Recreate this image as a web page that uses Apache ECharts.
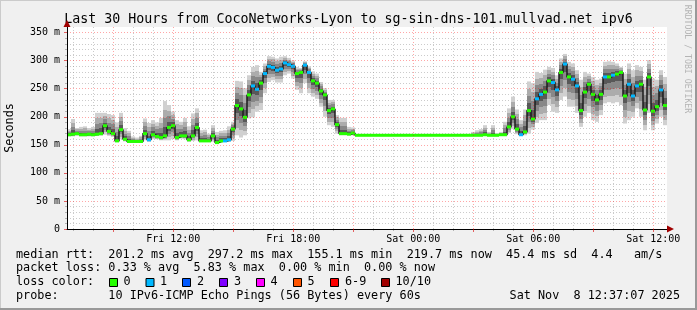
<!DOCTYPE html>
<html>
<head>
<meta charset="utf-8">
<script src="https://cdn.jsdelivr.net/npm/echarts@6/dist/echarts.min.js"></script>
<style>
  html, body { margin: 0; padding: 0; background: #f0f0f0; }
  #chart { width: 697px; height: 310px; }
</style>
</head>
<body>
<div id="chart"></div>
<script>
// time axis in hours since Fri 00:00, one rrd row = 12 min
const startHour = 6.685
const stepHours = 0.2

// median rtt per row (ms)
const median = [
  168, 169, 170, 168, 168, 169, 168, 169, 170, 184,
  174, 170, 157, 177, 160, 156, 156, 156, 156, 170,
  159, 168, 165, 163, 166, 181, 184, 163, 166, 166,
  159, 166, 181, 157, 157, 157, 166, 154, 157, 157,
  159, 178, 220, 214, 199, 239, 255, 249, 260, 277,
  290, 288, 283, 285, 296, 293, 290, 277, 279, 292,
  279, 264, 260, 246, 239, 211, 214, 186, 170, 170,
  169, 171, 167, 167, 167, 167, 167, 167, 167, 167,
  167, 167, 167, 167, 167, 167, 167, 167, 167, 167,
  167, 167, 167, 167, 167, 167, 167, 167, 167, 167,
  167, 167, 167, 167, 168, 167, 167, 167, 168, 168,
  182, 200, 178, 168, 173, 211, 196, 232, 240, 244,
  264, 261, 248, 279, 294, 271, 267, 255, 211, 244,
  258, 240, 230, 240, 271, 271, 274, 276, 279, 237,
  258, 237, 255, 258, 212, 271, 210, 218, 248, 220
]
// fastest ping per row (ms)
const low = [
  165, 165, 166, 165, 165, 165, 165, 166, 166, 168,
  166, 164, 155, 160, 156, 154, 154, 154, 154, 158,
  155, 160, 160, 158, 158, 158, 160, 158, 161, 160,
  155, 157, 158, 155, 155, 155, 156, 153, 154, 155,
  155, 157, 167, 163, 167, 197, 199, 209, 212, 242,
  262, 265, 261, 261, 274, 277, 268, 248, 242, 260,
  242, 236, 232, 218, 200, 185, 182, 170, 167, 167,
  167, 167, 167, 167, 167, 167, 167, 167, 167, 167,
  167, 167, 167, 167, 167, 167, 167, 167, 167, 167,
  167, 167, 167, 167, 167, 167, 167, 167, 167, 167,
  167, 166, 166, 166, 166, 166, 166, 166, 166, 167,
  171, 178, 169, 166, 167, 170, 177, 189, 194, 194,
  221, 209, 207, 230, 236, 218, 218, 207, 182, 200,
  207, 194, 191, 203, 224, 226, 224, 226, 221, 188,
  194, 200, 215, 200, 176, 207, 176, 188, 200, 185
]
// slowest ping per row (ms)
const high = [
  178, 196, 180, 182, 183, 180, 182, 207, 207, 207,
  205, 203, 190, 207, 180, 175, 165, 163, 166, 197,
  189, 194, 190, 198, 228, 221, 209, 194, 191, 198,
  183, 206, 215, 176, 177, 170, 185, 173, 175, 176,
  183, 191, 264, 263, 251, 274, 289, 292, 280, 295,
  308, 307, 304, 307, 308, 305, 300, 289, 287, 299,
  290, 281, 277, 262, 251, 230, 230, 203, 198, 198,
  182, 181, 167, 167, 167, 167, 167, 167, 167, 167,
  167, 167, 167, 167, 167, 167, 167, 167, 167, 167,
  167, 167, 167, 167, 167, 167, 167, 167, 167, 167,
  167, 173, 176, 178, 185, 173, 185, 171, 173, 191,
  215, 236, 213, 194, 213, 263, 260, 280, 278, 284,
  289, 287, 274, 304, 312, 298, 295, 283, 266, 280,
  277, 271, 266, 268, 298, 299, 298, 295, 289, 277,
  295, 283, 292, 289, 266, 301, 268, 266, 283, 271
]
// lost pings per row
const loss = [
  0, 0, 0, 0, 0, 0, 0, 0, 0, 0,
  0, 0, 0, 0, 0, 0, 0, 0, 0, 0,
  1, 0, 0, 0, 0, 0, 0, 0, 0, 0,
  0, 0, 0, 0, 0, 0, 0, 0, 0, 1,
  1, 0, 0, 0, 0, 0, 1, 1, 0, 1,
  1, 1, 1, 1, 1, 1, 1, 0, 0, 1,
  1, 0, 0, 0, 0, 0, 0, 0, 0, 0,
  0, 0, 0, 0, 0, 0, 0, 0, 0, 0,
  0, 0, 0, 0, 0, 0, 0, 0, 0, 0,
  0, 0, 0, 0, 0, 0, 0, 0, 0, 0,
  0, 0, 0, 0, 0, 0, 0, 0, 0, 0,
  0, 0, 0, 1, 0, 0, 0, 1, 1, 0,
  0, 1, 1, 0, 1, 0, 1, 1, 0, 0,
  0, 0, 0, 0, 1, 0, 1, 0, 0, 0,
  1, 1, 1, 0, 0, 0, 0, 0, 1, 0
]

const xLabelHours = [12, 18, 24, 30, 36]
const xLabels = ['Fri 12:00', 'Fri 18:00', 'Sat 00:00', 'Sat 06:00', 'Sat 12:00']
const xMajorHours = [9, 12, 15, 18, 21, 24, 27, 30, 33, 36]
const yMajor = [0, 50, 100, 150, 200, 250, 300, 350]

const lossNames = ['0', '1', '2', '3', '4', '5', '6-9', '10/10']
const lossColors = ['#26ff00', '#00b8ff', '#0059ff', '#7e00ff', '#ff00ff', '#ff5500', '#ff0000', '#a10000']

const statsLine = 'median rtt:  201.2 ms avg  297.2 ms max  155.1 ms min  219.7 ms now  45.4 ms sd  4.4   am/s'
const lossLine = 'packet loss: 0.33 % avg  5.83 % max  0.00 % min  0.00 % now'
const probeLine = 'probe:       10 IPv6-ICMP Echo Pings (56 Bytes) every 60s'
const stamp = 'Sat Nov  8 12:37:07 2025'

const endHour = startHour + median.length * stepHours
const mono = '"DejaVu Sans Mono", monospace'

let xMinor = []
for (let h = 7; h <= 36; h++) if (h % 3) xMinor.push(h)
let yMinor = []
for (let v = 10; v <= 350; v += 10) if (v % 50) yMinor.push(v)

const rows = median.map((m, i) => [startHour + i * stepHours, startHour + (i + 1) * stepHours, low[i], high[i], m, loss[i]])
const medLine = rows.map(r => [r[0], r[4]]).concat([[endHour, median[median.length - 1]]])

const shades = ['#d0d0d0', '#acacac', '#888888', '#585858']

function smokeItem(params, api) {
  const lo = api.value(2), hi = api.value(3)
  if (hi <= lo) return null
  const a = api.coord([api.value(0), hi])
  const b = api.coord([api.value(1), lo])
  const m = api.coord([api.value(0), api.value(4)])[1]
  const h = b[1] - a[1]
  const f = Math.min(1, Math.max(0, (m - a[1]) / h))
  const stops = []
  for (let j = 0; j < 4; j++) {
    stops.push({ offset: f * j / 4, color: shades[j] }, { offset: f * (j + 1) / 4, color: shades[j] })
  }
  for (let j = 3; j >= 0; j--) {
    stops.push({ offset: f + (1 - f) * (3 - j) / 4, color: shades[j] }, { offset: f + (1 - f) * (4 - j) / 4, color: shades[j] })
  }
  return {
    type: 'rect',
    shape: { x: a[0], y: a[1], width: b[0] - a[0], height: h },
    style: { fill: new echarts.graphic.LinearGradient(0, 0, 0, 1, stops) }
  }
}

function medianItem(params, api) {
  const a = api.coord([api.value(0), api.value(4)])
  const b = api.coord([api.value(1), api.value(4)])
  return {
    type: 'rect',
    shape: { x: a[0], y: a[1] - 1.5, width: b[0] - a[0], height: 3 },
    style: { fill: lossColors[api.value(5)] }
  }
}

const graphics = [
  // frame
  { type: 'rect', shape: { x: 0, y: 0, width: 697, height: 1 }, style: { fill: '#cbcbcb' } },
  { type: 'rect', shape: { x: 0, y: 0, width: 1, height: 310 }, style: { fill: '#cbcbcb' } },
  { type: 'rect', shape: { x: 0, y: 308, width: 697, height: 2 }, style: { fill: '#999999' } },
  { type: 'rect', shape: { x: 695, y: 0, width: 2, height: 310 }, style: { fill: '#999999' } },
  // arrows
  { type: 'polygon', z: 100, shape: { points: [[667, 225.5], [674, 229], [667, 232.5]] }, style: { fill: '#a00000' } },
  { type: 'polygon', z: 100, shape: { points: [[63.5, 27], [67, 20], [70.5, 27]] }, style: { fill: '#a00000' } },
  // texts
  { type: 'text', x: 348.5, y: 19.5, style: { text: 'Last 30 Hours from CocoNetworks-Lyon to sg-sin-dns-101.mullvad.net ipv6', font: '13.3px ' + mono, fill: '#000', align: 'center', verticalAlign: 'middle' } },
  { type: 'text', x: 10, y: 128, rotation: Math.PI / 2, style: { text: 'Seconds', font: '11.8px ' + mono, fill: '#000', align: 'center', verticalAlign: 'middle' } },
  { type: 'text', x: 687, y: 59, rotation: -Math.PI / 2, style: { text: 'RRDTOOL / TOBI OETIKER', font: '8.2px ' + mono, fill: '#b4b4b4', align: 'center', verticalAlign: 'middle' } },
  { type: 'text', x: 16, y: 254.5, style: { text: statsLine, font: '11.8px ' + mono, fill: '#000', verticalAlign: 'middle' } },
  { type: 'text', x: 16, y: 268.3, style: { text: lossLine, font: '11.8px ' + mono, fill: '#000', verticalAlign: 'middle' } },
  { type: 'text', x: 16, y: 282.2, style: { text: 'loss color:', font: '11.8px ' + mono, fill: '#000', verticalAlign: 'middle' } },
  { type: 'text', x: 16, y: 296, style: { text: probeLine, font: '11.8px ' + mono, fill: '#000', verticalAlign: 'middle' } },
  { type: 'text', x: 680, y: 296, style: { text: stamp, font: '11.8px ' + mono, fill: '#000', align: 'right', verticalAlign: 'middle' } }
]
const boxX = [109, 145.5, 182, 219, 256, 293, 330, 381]
const nameX = [123.5, 160, 197, 234, 270.5, 307.5, 345, 395.5]
lossNames.forEach((n, i) => {
  graphics.push({ type: 'rect', shape: { x: boxX[i] + 0.5, y: 278.5, width: 8, height: 8 }, style: { fill: lossColors[i], stroke: '#000', lineWidth: 1 } })
  graphics.push({ type: 'text', x: nameX[i], y: 282.2, style: { text: n, font: '11.8px ' + mono, fill: '#000', verticalAlign: 'middle' } })
})

const chart = echarts.init(document.getElementById('chart'), null, { renderer: 'canvas' })
chart.setOption({
  animation: false,
  backgroundColor: '#f0f0f0',
  grid: { left: 67, top: 27, right: 30, bottom: 81, show: true, backgroundColor: '#ffffff', borderWidth: 0 },
  xAxis: [
    {
      type: 'value', position: 'bottom', min: startHour, max: endHour,
      axisLine: { show: true, onZero: false, lineStyle: { color: '#000', width: 1 } },
      axisTick: { show: true, customValues: xMajorHours, length: 3, lineStyle: { color: 'rgba(220,0,0,0.6)' } },
      axisLabel: {
        customValues: xLabelHours, margin: 5, color: '#000', fontFamily: mono, fontSize: 10,
        formatter: v => xLabels[xLabelHours.indexOf(v)]
      },
      splitLine: { show: true, lineStyle: { color: 'rgba(255,0,0,0.35)', type: [1, 2] } },
      z: 5
    },
    {
      type: 'value', position: 'bottom', min: startHour, max: endHour,
      axisLine: { show: false },
      axisTick: { show: true, customValues: xMinor, length: 2, lineStyle: { color: 'rgba(140,140,140,0.6)' } },
      axisLabel: { show: false },
      splitLine: { show: true, lineStyle: { color: 'rgba(140,140,140,0.45)', type: [1, 2] } }
    }
  ],
  yAxis: [
    {
      type: 'value', position: 'left', min: 0, max: 360,
      axisLine: { show: true, onZero: false, lineStyle: { color: '#000', width: 1 } },
      axisTick: { show: true, customValues: yMajor, length: 3, lineStyle: { color: 'rgba(220,0,0,0.6)' } },
      axisLabel: {
        customValues: yMajor, margin: 7, color: '#000', fontFamily: mono, fontSize: 10,
        formatter: v => (v === 0 ? '0' : v + ' m')
      },
      splitLine: { show: true, lineStyle: { color: 'rgba(255,0,0,0.35)', type: [1, 2] } },
      z: 5
    },
    {
      type: 'value', position: 'left', min: 0, max: 360,
      axisLine: { show: false },
      axisTick: { show: true, customValues: yMinor, length: 2, lineStyle: { color: 'rgba(140,140,140,0.6)' } },
      axisLabel: { show: false },
      splitLine: { show: true, lineStyle: { color: 'rgba(140,140,140,0.45)', type: [1, 2] } }
    }
  ],
  series: [
    {
      type: 'custom', name: 'smoke', xAxisIndex: 0, yAxisIndex: 0,
      data: rows, renderItem: smokeItem,
      encode: { x: [0, 1], y: [2, 3] }, silent: true, z: 2
    },
    {
      type: 'line', name: 'median', xAxisIndex: 0, yAxisIndex: 0,
      data: medLine, step: 'end', symbol: 'none', silent: true,
      lineStyle: { color: '#1c1c1c', width: 1.5 }, z: 3
    },
    {
      type: 'custom', name: 'loss', xAxisIndex: 0, yAxisIndex: 0,
      data: rows, renderItem: medianItem,
      encode: { x: [0, 1], y: 4 }, silent: true, z: 4
    }
  ],
  graphic: graphics
})
</script>
</body>
</html>
